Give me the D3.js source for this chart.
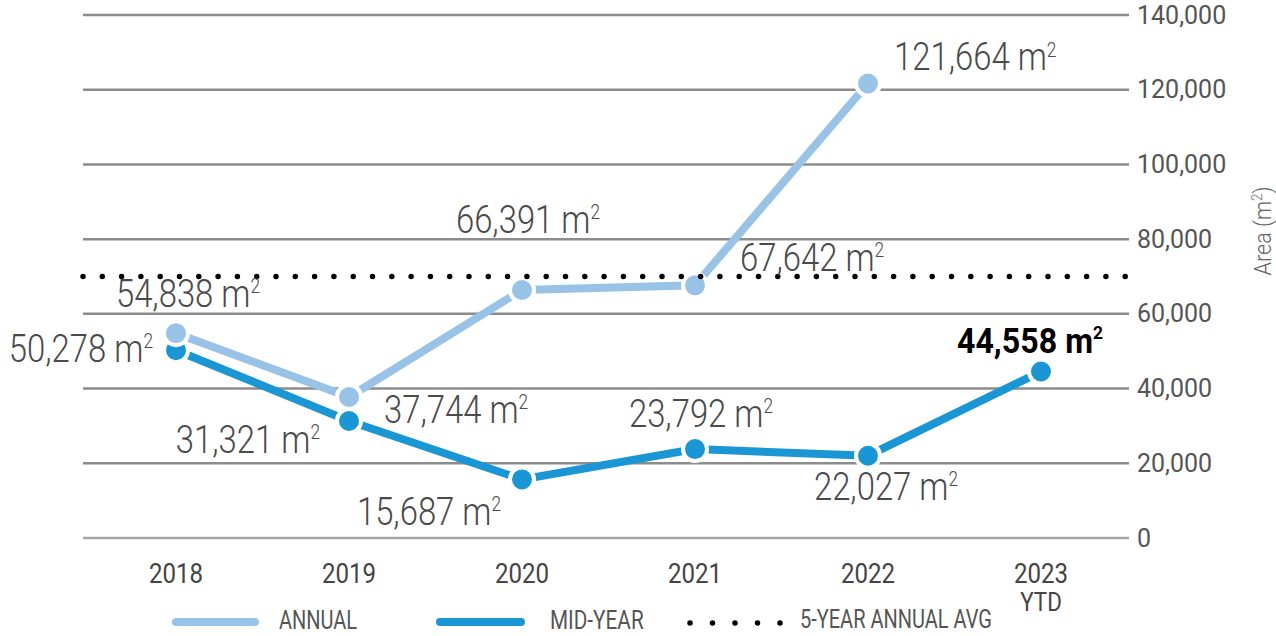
<!DOCTYPE html>
<html>
<head>
<meta charset="utf-8">
<script src="https://cdn.jsdelivr.net/npm/d3@7"></script>
<style>
  body { margin: 0; background: #fff; }
  svg { display: block; font-family: Roboto, "Liberation Sans", sans-serif; }
</style>
</head>
<body>
<svg width="1276" height="636"></svg>
<script>
// data
var years = ["2018", "2019", "2020", "2021", "2022", "2023"];
var annual = [54838, 37744, 66391, 67642, 121664];
var midYear = [50278, 31321, 15687, 23792, 22027, 44558];
var fiveYearAvg = 70000;
var yTicks = [0, 20000, 40000, 60000, 80000, 100000, 120000, 140000];

// where each value label sits relative to its point (dx, dy, anchor)
var annualLbl = [[12, -26, "middle"], [35, 26, "start"], [6, -57, "middle"], [45, -14, "start"], [26, -13, "start"]];
var midLbl = [[-23, 12, "end"], [-29, 32, "end"], [-93, 46, "middle"], [6, -22, "middle"], [18, 44, "middle"], [-11, -19, "middle"]];

var svg = d3.select("svg");
var fmt = d3.format(",");

var x = d3.scalePoint().domain(years).range([176, 1041]);
var y = d3.scaleLinear().domain([0, 140000]).range([538, 15]);

// condensed text: squeeze horizontally around the anchor point
function ctext(g, px, py, sx) {
  return g.append("text")
    .attr("transform", "translate(" + px + "," + py + ") scale(" + sx + ",1)");
}

// grid
svg.append("g").selectAll("line")
  .data(yTicks)
  .enter().append("line")
    .attr("x1", 83).attr("x2", 1129)
    .attr("y1", function(d){ return y(d); })
    .attr("y2", function(d){ return y(d); })
    .attr("stroke", function(d){ return d == 0 ? "#a6a6a6" : "#8c8c8c"; })
    .attr("stroke-width", 2.5);

// right axis
var axis = d3.axisRight(y).tickValues(yTicks).tickSize(0).tickPadding(8).tickFormat(fmt);
var ga = svg.append("g").attr("transform", "translate(1129,0)").call(axis);
ga.select(".domain").remove();
ga.selectAll("text")
  .attr("font-size", 25)
  .attr("fill", "#555")
  .attr("font-family", "Roboto");

var at = svg.append("text")
  .attr("transform", "translate(1271,231) rotate(-90) scale(0.9,1)")
  .attr("text-anchor", "middle")
  .attr("font-size", 24)
  .attr("font-weight", 300)
  .attr("fill", "#666")
  .text("Area (m");
at.append("tspan").attr("font-size", 15).attr("dy", -9).text("2");
at.append("tspan").attr("dy", 9).text(")");

// x labels
var gx = svg.append("g").attr("font-size", 28).attr("fill", "#444").attr("text-anchor", "middle");
years.forEach(function(d){
  ctext(gx, x(d), 583, 0.86).text(d);
});
ctext(gx, x("2023"), 611, 0.86).attr("font-size", 26).text("YTD");

var line = d3.line()
  .x(function(d, i){ return x(years[i]); })
  .y(function(d){ return y(d); });

function series(vals, color) {
  var g = svg.append("g");
  g.append("path")
    .datum(vals)
    .attr("d", line)
    .attr("fill", "none")
    .attr("stroke", color)
    .attr("stroke-width", 8);
  g.selectAll("circle")
    .data(vals)
    .enter().append("circle")
      .attr("cx", function(d, i){ return x(years[i]); })
      .attr("cy", function(d){ return y(d); })
      .attr("r", 12)
      .attr("fill", color)
      .attr("stroke", "#fff")
      .attr("stroke-width", 4);
}

function labels(vals, lbls, boldLast) {
  var g = svg.append("g");
  vals.forEach(function(v, i){
    var bold = boldLast && i == vals.length - 1;
    var t = ctext(g, x(years[i]) + lbls[i][0], y(v) + lbls[i][1], bold ? 0.92 : 0.865)
      .attr("text-anchor", lbls[i][2])
      .attr("font-size", bold ? 35 : 38)
      .attr("font-weight", bold ? "bold" : 300)
      .attr("fill", bold ? "#000" : "#4a4a4a")
      .text(fmt(v) + " m");
    t.append("tspan").attr("font-size", bold ? 19 : 20).attr("dy", -14).text("2");
  });
}

series(midYear, "#1a96d4");
series(annual, "#98c2e6");

// 5-year average
svg.append("line")
  .attr("x1", 83).attr("x2", 1129)
  .attr("y1", y(fiveYearAvg)).attr("y2", y(fiveYearAvg))
  .attr("stroke", "#000")
  .attr("stroke-width", 5.5)
  .attr("stroke-linecap", "round")
  .attr("stroke-dasharray", "0 19.3");

labels(annual, annualLbl, false);
labels(midYear, midLbl, true);

// legend
var lg = svg.append("g").attr("font-size", 25).attr("fill", "#555");
lg.append("line").attr("x1", 176).attr("x2", 255).attr("y1", 622).attr("y2", 622)
  .attr("stroke", "#98c2e6").attr("stroke-width", 8).attr("stroke-linecap", "round");
ctext(lg, 279, 629, 0.8).text("ANNUAL");
lg.append("line").attr("x1", 440).attr("x2", 521).attr("y1", 622).attr("y2", 622)
  .attr("stroke", "#1a96d4").attr("stroke-width", 8).attr("stroke-linecap", "round");
ctext(lg, 550, 629, 0.83).text("MID-YEAR");
lg.append("line").attr("x1", 690).attr("x2", 781).attr("y1", 623).attr("y2", 623)
  .attr("stroke", "#000").attr("stroke-width", 5.5).attr("stroke-linecap", "round")
  .attr("stroke-dasharray", "0 22.5");
ctext(lg, 800, 628, 0.8).text("5-YEAR ANNUAL AVG");
</script>
</body>
</html>
